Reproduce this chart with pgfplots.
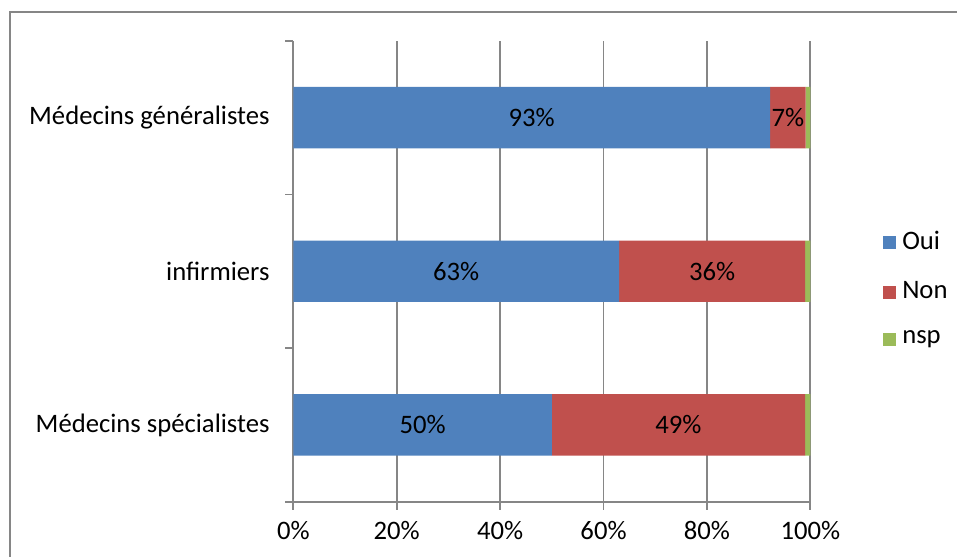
\documentclass[border=0pt]{standalone}
\usepackage{pgfplots}
\pgfplotsset{compat=1.18}
\usepackage{fontspec}
\setmainfont{Carlito}
\definecolor{cOui}{HTML}{4F81BD}
\definecolor{cNon}{HTML}{C0504D}
\definecolor{cNsp}{HTML}{9BBB59}
\definecolor{gridgray}{HTML}{868686}
\begin{document}
\fontsize{20}{24}\selectfont
\begin{tikzpicture}
\useasboundingbox (0pt,0pt) rectangle (717.75pt,-417.75pt);
\draw[color=gridgray, line width=1.1pt] (7.5pt,-470pt) -- (7.5pt,-9pt) -- (760pt,-9pt);
\coordinate (A) at (220pt,-376.3pt);
\pgfplotsset{
  common/.style={
    at={(A)}, anchor=south west, scale only axis,
    width=387.75pt, height=345.75pt,
    xmin=0, xmax=100, ymin=-0.5, ymax=2.5,
  }
}
\begin{axis}[common,
  xbar stacked, bar width=0.4,
  axis x line=bottom, axis y line=left,
  axis line style={-, draw=gridgray, line width=1.3pt},
  xtick={0,20,40,60,80,100},
  xticklabel={\pgfmathprintnumber[assume math mode=true]{\tick}\%},
  xmajorgrids,
  major grid style={draw=gridgray, line width=1.3pt},
  tick align=outside,
  major tick length=6pt,
  tick style={draw=gridgray, line width=1.3pt},
  ytick={-0.5,0.5,1.5,2.5},
  yticklabels={},
  extra y ticks={0,1,2},
  extra y tick labels={Médecins spécialistes, infirmiers, Médecins généralistes},
  extra y tick style={major tick length=0pt, yticklabel style={xshift=-11pt}},
  xticklabel style={yshift=-1.5pt},
  legend style={at={(1.1315,0.46)}, anchor=west, draw=none, fill=none,
    row sep=17pt, font=\fontsize{20}{24}\selectfont,
    /tikz/every odd column/.append style={column sep=3pt}},
  legend cell align=left,
  legend image code/.code={\fill[#1] (0pt,-4.9pt) rectangle (9.75pt,4.9pt);},
]
\addplot[fill=cOui, draw=none] coordinates {(50,0) (63,1) (92.2,2)};
\addplot[fill=cNon, draw=none] coordinates {(49,0) (36,1) (6.9,2)};
\addplot[fill=cNsp, draw=none] coordinates {(1,0) (1,1) (0.9,2)};
\legend{Oui, Non, nsp}
\end{axis}
\begin{axis}[common, hide axis]
\addplot[draw=none, mark=none, nodes near coords, point meta=explicit symbolic,
  every node near coord/.style={anchor=center, font=\fontsize{20}{24}\selectfont}]
  coordinates {(25,0) [50\%] (74.5,0) [49\%] (31.5,1) [63\%] (81,1) [36\%] (46.1,2) [93\%] (95.65,2) [7\%]};
\end{axis}
\end{tikzpicture}
\end{document}
